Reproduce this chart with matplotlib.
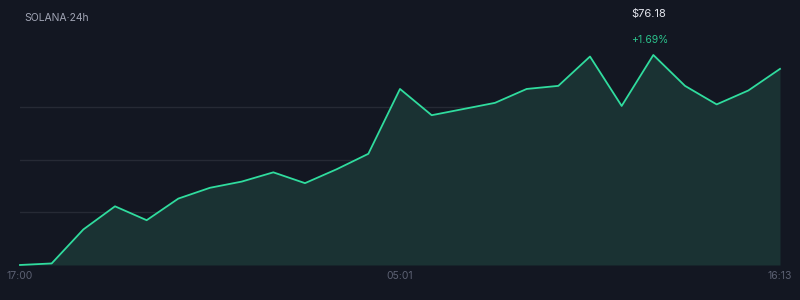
import matplotlib.pyplot as plt
import numpy as np

# SOLANA price over 24h
times = ['17:00', '', '', '', '', '', '', '', '', '', '', '', '05:01',
         '', '', '', '', '', '', '', '', '', '', '', '16:13']
prices = [74.91, 74.92, 75.14, 75.29, 75.20, 75.34, 75.41, 75.45, 75.51,
          75.44, 75.53, 75.63, 76.05, 75.88, 75.92, 75.96, 76.05, 76.07,
          76.26, 75.94, 76.27, 76.07, 75.95, 76.04, 76.18]
title = 'SOLANA·24h'
last_price = '$76.18'
change = '+1.69%'

BG = '#131722'
LINE = '#30dc9e'
FILL = '#1a3233'
GRID = '#262a35'

plt.rcParams['font.family'] = ['Inter', 'DejaVu Sans']

fig = plt.figure(figsize=(8, 3), dpi=100, facecolor=BG)
ax = fig.add_axes([0.025, 0.1167, 0.95, 0.70])
ax.set_facecolor(BG)

x = np.arange(len(prices))
lo, hi = min(prices), max(prices)
ax.set_xlim(0, len(prices) - 1)
ax.set_ylim(lo, hi)

# horizontal guides at the quarters of the range
for q in (0.25, 0.5, 0.75):
    ax.axhline(lo + q * (hi - lo), color=GRID, lw=1.0, zorder=1)

ax.fill_between(x, prices, lo, color=FILL, lw=0, zorder=2)
ax.plot(x, prices, color=LINE, lw=1.3, zorder=3, clip_on=False)

ticks = [i for i, t in enumerate(times) if t]
ax.set_xticks(ticks, [times[i] for i in ticks])
ax.tick_params(axis='x', length=0, pad=4, labelsize=7.5, labelcolor='#5c6173')
ax.set_yticks([])
for s in ax.spines.values():
    s.set_visible(False)

fig.text(24 / 800, 1 - 18 / 300, title, color='#a0a4b4', fontsize=7.5,
         va='center', ha='left')
fig.text(631 / 800, 1 - 14 / 300, last_price, color='#e4e6ee', fontsize=8,
         va='center', ha='left')
fig.text(631 / 800, 1 - 40 / 300, change, color='#2bbf8a', fontsize=7.5,
         va='center', ha='left')

fig.savefig('out.png', dpi=100, facecolor=BG)
